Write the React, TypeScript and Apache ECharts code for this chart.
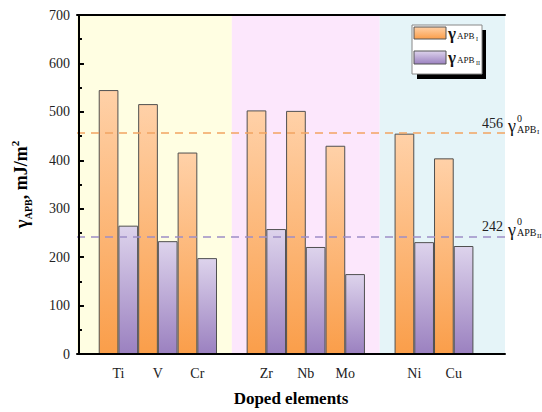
import React, { useEffect, useRef } from 'react';
import * as echarts from 'echarts';

const categories = ['Ti', 'V', 'Cr', 'Zr', 'Nb', 'Mo', 'Ni', 'Cu'];
const positions = [1, 2, 3, 4.75, 5.75, 6.75, 8.5, 9.5];
const gammaAPB1 = [545, 516, 416, 503, 502, 430, 455, 404];
const gammaAPB2 = [265, 233, 198, 258, 221, 165, 231, 223];
const refAPB1 = 456;
const refAPB2 = 242;
const groupBreaks = [3.875, 7.625];
const X_MIN = -0.05;
const X_MAX = 10.8;
const Y_MIN = 0;
const Y_MAX = 700;
const Y_STEP = 100;
const bgColors = ['#FFFEE2', '#FCE7FC', '#E5F4F8'];

const FONT = 'Times New Roman';

export default function App() {
  const ref = useRef<HTMLDivElement>(null);
  useEffect(() => {
    if (!ref.current) return;
    const chart = echarts.init(ref.current, null, { renderer: 'svg' });
    const gradOrange = () =>
      new echarts.graphic.LinearGradient(0, 0, 0, 1, [
        { offset: 0, color: '#FFD1A8' },
        { offset: 1, color: '#FA9E4A' },
      ]);
    const gradPurple = () =>
      new echarts.graphic.LinearGradient(0, 0, 0, 1, [
        { offset: 0, color: '#DDD3EC' },
        { offset: 1, color: '#9B81C0' },
      ]);
    const bounds = [X_MIN, ...groupBreaks, X_MAX];
    const areas = bgColors.map((c, i) => [
      { xAxis: bounds[i], itemStyle: { color: c } },
      { xAxis: bounds[i + 1] },
    ]);
    const axisLineStyle = { color: '#000', width: 2 };
    const tickLabel = { color: '#222', fontSize: 14, fontFamily: FONT };
    chart.setOption({
      animation: false,
      textStyle: { fontFamily: FONT },
      grid: { left: 77, right: 37, top: 15, bottom: 52 },
      xAxis: [
        {
          type: 'value',
          min: X_MIN,
          max: X_MAX,
          position: 'bottom',
          axisLine: { show: true, onZero: false, lineStyle: axisLineStyle },
          axisTick: { show: false },
          splitLine: { show: false },
          axisLabel: {
            ...tickLabel,
            margin: 12,
            customValues: positions,
            formatter: (v: number) => {
              const i = positions.findIndex((p) => Math.abs(p - v) < 1e-6);
              return i >= 0 ? categories[i] : '';
            },
          },
          name: 'Doped elements',
          nameLocation: 'middle',
          nameGap: 36,
          nameTextStyle: { fontWeight: 'bold', fontSize: 17, fontFamily: FONT, color: '#000' },
          z: 10,
        },
        {
          type: 'value',
          min: X_MIN,
          max: X_MAX,
          position: 'top',
          axisLine: { show: true, onZero: false, lineStyle: axisLineStyle },
          axisTick: { show: false },
          axisLabel: { show: false },
          splitLine: { show: false },
          z: 10,
        },
      ],
      yAxis: [
        {
          type: 'value',
          min: Y_MIN,
          max: Y_MAX,
          interval: Y_STEP,
          axisLine: { show: true, lineStyle: axisLineStyle },
          axisTick: { show: true, inside: true, length: 5, lineStyle: { color: '#000', width: 2 } },
          minorTick: { show: true, splitNumber: 2, length: 3, lineStyle: { color: '#000', width: 2 } },
          splitLine: { show: false },
          minorSplitLine: { show: false },
          axisLabel: { ...tickLabel, margin: 7 },
          name: '{g|γ}{s|APB}{t|, mJ/m}{p|2}',
          nameLocation: 'middle',
          nameGap: 44,
          nameTextStyle: {
            color: '#000',
            fontFamily: FONT,
            rich: {
              g: { fontSize: 19, fontWeight: 'bold', fontFamily: FONT, lineHeight: 24, color: '#000' },
              s: { fontSize: 10, fontWeight: 'bold', fontFamily: FONT, verticalAlign: 'bottom', color: '#000' },
              t: { fontSize: 18, fontWeight: 'bold', fontFamily: FONT, lineHeight: 24, color: '#000' },
              p: { fontSize: 11, fontWeight: 'bold', fontFamily: FONT, verticalAlign: 'top', color: '#000' },
            },
          },
          z: 10,
        },
        {
          type: 'value',
          min: Y_MIN,
          max: Y_MAX,
          position: 'right',
          axisLine: { show: true, lineStyle: axisLineStyle },
          axisTick: { show: false },
          axisLabel: { show: false },
          splitLine: { show: false },
          z: 10,
        },
      ],
      series: [
        {
          type: 'line',
          data: [],
          silent: true,
          z: 1,
          markArea: { silent: true, data: areas },
        },
        {
          type: 'line',
          data: [],
          silent: true,
          z: 2,
          markLine: {
            silent: true,
            symbol: 'none',
            data: [
              { yAxis: refAPB1, lineStyle: { color: '#F2A462', type: [8, 6], width: 1.5 } },
              { yAxis: refAPB2, lineStyle: { color: '#9D8DC6', type: [8, 6], width: 1.5 } },
            ],
            label: {
              position: 'insideEndTop',
              formatter: (p: any) => String(p.value),
              color: '#222',
              fontSize: 14,
              fontFamily: FONT,
              distance: [2, 3],
            },
          },
        },
        {
          type: 'bar',
          name: 'APB1',
          data: positions.map((x, i) => [x, gammaAPB1[i]]),
          barWidth: 19.7,
          barGap: '0%',
          z: 3,
          itemStyle: { color: gradOrange(), borderColor: '#505050', borderWidth: 1 },
        },
        {
          type: 'bar',
          name: 'APB2',
          data: positions.map((x, i) => [x, gammaAPB2[i]]),
          barWidth: 19.7,
          barGap: '0%',
          z: 3,
          itemStyle: { color: gradPurple(), borderColor: '#505050', borderWidth: 1 },
        },
      ],
    });

    const yI = chart.convertToPixel({ yAxisIndex: 0 }, refAPB1) as number;
    const yII = chart.convertToPixel({ yAxisIndex: 0 }, refAPB2) as number;
    const txt = (x: number, y: number, text: string, size: number, bold = false) => ({
      type: 'text',
      x,
      y,
      z: 100,
      style: {
        text,
        fontSize: size,
        fontFamily: FONT,
        fontWeight: bold ? 'bold' : 'normal',
        fill: '#111',
        align: 'left',
        verticalAlign: 'middle',
        textAlign: 'left',
        textVerticalAlign: 'middle',
      },
    });
    const refLabel = (y: number, sub: string) => [
      txt(508, y - 7, 'γ', 18),
      txt(517, y - 15, '0', 10),
      txt(517, y - 4, 'APB', 10),
      txt(537, y - 1, sub, 7),
    ];
    chart.setOption({
      graphic: [
        ...refLabel(yI, 'I'),
        ...refLabel(yII, 'II'),
        { type: 'rect', z: 100, shape: { x: 417, y: 30, width: 69, height: 49 }, style: { fill: '#000' } },
        {
          type: 'rect',
          z: 101,
          shape: { x: 412, y: 25, width: 70, height: 49 },
          style: { fill: '#fff', stroke: '#888', lineWidth: 1 },
        },
        {
          type: 'rect',
          z: 102,
          shape: { x: 414, y: 27, width: 32, height: 12 },
          style: { fill: gradOrange(), stroke: '#555', lineWidth: 1 },
        },
        {
          type: 'rect',
          z: 102,
          shape: { x: 414, y: 51, width: 32, height: 13 },
          style: { fill: gradPurple(), stroke: '#555', lineWidth: 1 },
        },
        { ...txt(448, 33, 'γ', 17, true), z: 103 },
        { ...txt(457, 36, 'APB', 9), z: 103 },
        { ...txt(476, 39, 'I', 6), z: 103 },
        { ...txt(448, 57, 'γ', 17, true), z: 103 },
        { ...txt(457, 60, 'APB', 9), z: 103 },
        { ...txt(476, 63, 'II', 6), z: 103 },
      ],
    });
    return () => chart.dispose();
  }, []);
  return (
    <div
      ref={ref}
      style={{ position: 'fixed', left: 0, top: 0, width: 542, height: 412, background: '#fff' }}
    />
  );
}
